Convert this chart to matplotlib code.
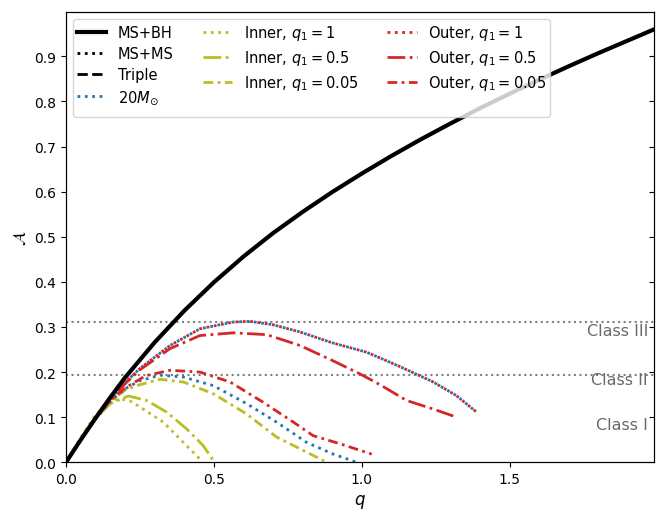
import matplotlib
matplotlib.use("Agg")
import matplotlib.pyplot as plt
from matplotlib.lines import Line2D

# MS+BH reference curve
q_bh = [0, 0.05, 0.1, 0.15, 0.2, 0.3, 0.4, 0.5, 0.6, 0.7, 0.8, 0.9, 1.0, 1.1,
        1.2, 1.3, 1.4, 1.5, 1.6, 1.7, 1.8, 1.9, 2.0]
a_bh = [0, 0.05, 0.098, 0.144, 0.188, 0.266, 0.336, 0.399, 0.456, 0.508, 0.555,
        0.599, 0.640, 0.679, 0.716, 0.751, 0.785, 0.817, 0.848, 0.878, 0.907,
        0.935, 0.963]

# upper 20 Msun curve (coincides with Outer, q1 = 1)
q_up = [0, 0.05, 0.1, 0.15, 0.2, 0.25, 0.352, 0.453, 0.566, 0.622, 0.7, 0.791,
        0.9, 1.017, 1.13, 1.242, 1.32, 1.389]
a_up = [0, 0.05, 0.097, 0.14, 0.177, 0.208, 0.259, 0.296, 0.311, 0.3125, 0.305,
        0.289, 0.265, 0.244, 0.212, 0.178, 0.148, 0.111]

# lower 20 Msun curve
q_lo = [0, 0.05, 0.1, 0.15, 0.2, 0.25, 0.318, 0.397, 0.498, 0.611, 0.712, 0.814,
        0.904, 0.983]
a_lo = [0, 0.05, 0.096, 0.135, 0.163, 0.181, 0.193, 0.189, 0.170, 0.130, 0.089,
        0.044, 0.018, 0.0]

# Outer, q1 = 0.5
q_o05 = [0, 0.05, 0.1, 0.15, 0.2, 0.25, 0.352, 0.453, 0.566, 0.679, 0.791, 0.9,
         0.994, 1.062, 1.152, 1.242, 1.321]
a_o05 = [0, 0.05, 0.097, 0.139, 0.174, 0.205, 0.252, 0.281, 0.287, 0.283, 0.259,
         0.226, 0.196, 0.172, 0.137, 0.118, 0.100]

# Outer, q1 = 0.05
q_o005 = [0, 0.05, 0.1, 0.15, 0.205, 0.27, 0.352, 0.453, 0.555, 0.667, 0.769,
          0.836, 0.927, 1.034]
a_o005 = [0, 0.05, 0.097, 0.137, 0.167, 0.192, 0.204, 0.2, 0.178, 0.133, 0.089,
          0.059, 0.041, 0.018]

# Inner, q1 = 1
q_i1 = [0, 0.05, 0.1, 0.15, 0.183, 0.22, 0.261, 0.329, 0.397, 0.453]
a_i1 = [0, 0.055, 0.105, 0.135, 0.141, 0.135, 0.118, 0.089, 0.044, 0.007]

# Inner, q1 = 0.5
q_i05 = [0, 0.05, 0.1, 0.15, 0.211, 0.273, 0.341, 0.408, 0.464, 0.498]
a_i05 = [0, 0.05, 0.097, 0.13, 0.147, 0.137, 0.111, 0.074, 0.037, 0.004]

# Inner, q1 = 0.05
q_i005 = [0, 0.05, 0.1, 0.15, 0.2, 0.239, 0.318, 0.397, 0.498, 0.611, 0.712,
          0.803, 0.882]
a_i005 = [0, 0.05, 0.097, 0.135, 0.16, 0.170, 0.184, 0.178, 0.152, 0.107, 0.056,
          0.026, 0.0]

class_levels = [0.312, 0.194]
class_names = ["Class III", "Class II", "Class I"]
class_y = [0.292, 0.184, 0.083]

BLUE = "#1f77b4"
OLIVE = "#bcbd22"
RED = "#d62728"
SHORT_DD = (0, (3.5, 1.6, 1, 1.6))

fig = plt.figure(figsize=(6.56, 5.1), dpi=100)
ax = fig.add_axes([0.1006, 0.0916, 0.897, 0.8835])

for lev in class_levels:
    ax.axhline(lev, color="gray", ls=":", lw=1.5, zorder=1)

ax.plot(q_bh, a_bh, color="black", lw=3, zorder=3)

ax.plot(q_i1, a_i1, color=OLIVE, ls=":", lw=2)
ax.plot(q_i05, a_i05, color=OLIVE, ls="-.", lw=2)
ax.plot(q_i005, a_i005, color=OLIVE, ls=SHORT_DD, lw=2)

ax.plot(q_lo, a_lo, color=BLUE, ls=":", lw=2)
ax.plot(q_up, a_up, color=BLUE, ls=(1.3, (1, 1.65)), lw=2)
ax.plot(q_up, a_up, color=RED, ls=(0, (1, 1.65)), lw=2)
ax.plot(q_o05, a_o05, color=RED, ls="-.", lw=2)
ax.plot(q_o005, a_o005, color=RED, ls=SHORT_DD, lw=2)

for name, yy in zip(class_names, class_y):
    ax.text(1.968, yy, name, ha="right", va="center", fontsize=11.5,
            color="dimgray")

ax.set_xlim(0, 1.99)
ax.set_ylim(0, 0.999)
yt = [0.0, 0.1, 0.2, 0.3, 0.4, 0.5, 0.6, 0.7, 0.8, 0.9]
ax.set_xticks([0.0, 0.5, 1.0, 1.5])
ax.set_yticks(yt)
ax.set_xlabel("$q$", fontsize=12)
ax.set_ylabel(r"$\mathcal{A}$", fontsize=12)

ax2 = ax.twinx()
ax2.set_ylim(ax.get_ylim())
ax2.set_yticks(yt)
ax2.tick_params(direction="in", labelright=False)

handles = [
    Line2D([], [], color="black", lw=3, label="MS+BH"),
    Line2D([], [], color="black", ls=":", lw=2, label="MS+MS"),
    Line2D([], [], color="black", ls="--", lw=2, label="Triple"),
    Line2D([], [], color=BLUE, ls=":", lw=2, label=r"$20M_{\odot}$"),
    Line2D([], [], color=OLIVE, ls=":", lw=2, label=r"Inner, $q_1=1$"),
    Line2D([], [], color=OLIVE, ls="-.", lw=2, label=r"Inner, $q_1=0.5$"),
    Line2D([], [], color=OLIVE, ls=SHORT_DD, lw=2, label=r"Inner, $q_1=0.05$"),
    Line2D([], [], color="none", label=" "),
    Line2D([], [], color=RED, ls=":", lw=2, label=r"Outer, $q_1=1$"),
    Line2D([], [], color=RED, ls="-.", lw=2, label=r"Outer, $q_1=0.5$"),
    Line2D([], [], color=RED, ls=SHORT_DD, lw=2, label=r"Outer, $q_1=0.05$"),
]
leg = ax.legend(handles=handles, loc="upper left", ncol=3, fontsize=10.5,
                labelspacing=0.42, borderpad=0.25)
leg.set_zorder(5)
ax.set_zorder(ax2.get_zorder() + 1)
ax.patch.set_visible(False)

fig.savefig("out.png", dpi=100)
